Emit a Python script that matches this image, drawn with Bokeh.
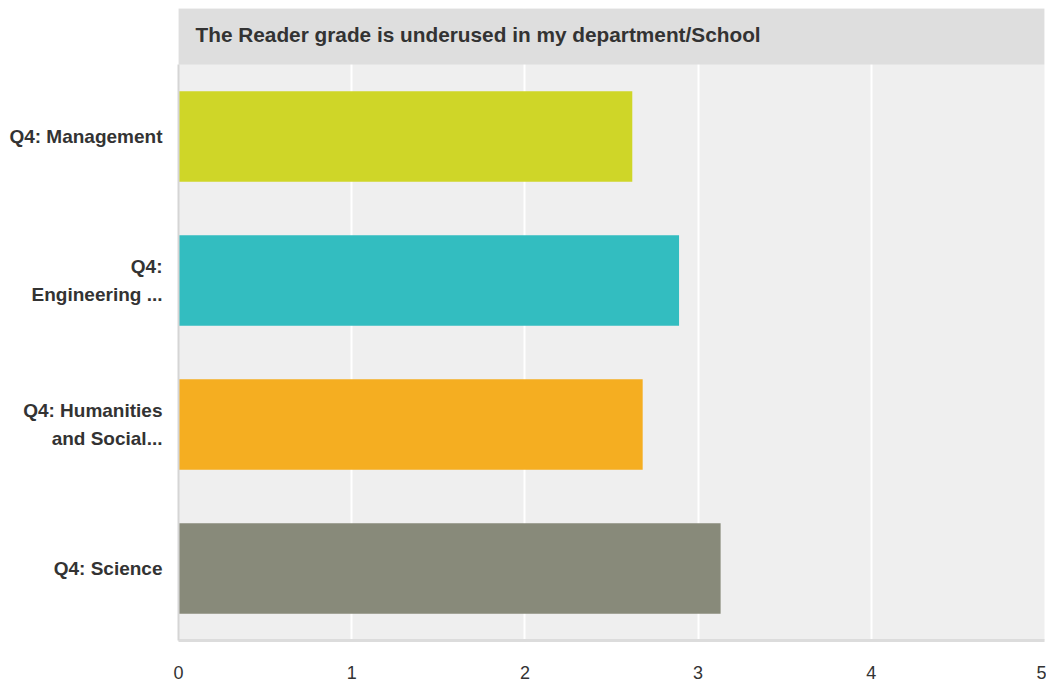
from bokeh.plotting import figure
from bokeh.models import ColumnDataSource, Range1d, FixedTicker
from bokeh.core.properties import value
from bokeh.embed import file_html
from bokeh.resources import INLINE

categories = ["Q4: Management", "Q4:\nEngineering ...", "Q4: Humanities\nand Social...", "Q4: Science"]
values = [2.62, 2.89, 2.68, 3.13]
colors = ["#cfd628", "#33bdc0", "#f5ae21", "#888a7a"]
title_text = "The Reader grade is underused in my department/School"
x_ticks = [0, 1, 2, 3, 4, 5]

n = len(categories)
positions = [n - 1 - i for i in range(n)]  # first category at top
source = ColumnDataSource(dict(y=positions, val=values, color=colors))

title_h = 56 / 144.0
top_plot = n - 0.5

p = figure(width=1046, height=688, output_backend="svg", toolbar_location=None,
           x_range=Range1d(0, 5), y_range=Range1d(-0.5, top_plot + title_h))

# title bar
p.quad(left=[0], right=[5], bottom=[top_plot], top=[top_plot + title_h],
       fill_color="#dedede", line_color=None)
p.text(x=[0], y=[top_plot + title_h / 2], text=[title_text], x_offset=17, y_offset=-2,
       text_font=value("Liberation Sans"), text_font_size="20.8px",
       text_font_style="bold", text_color="#333333", text_baseline="middle",
       text_align="left")

p.hbar(y="y", right="val", left=0, height=0.63, fill_color="color",
       line_color=None, source=source)

p.background_fill_color = "#efefef"
p.border_fill_color = "white"
p.outline_line_color = None
p.min_border_left = 178
p.min_border_right = 2
p.min_border_top = 8
p.min_border_bottom = 48

p.ygrid.grid_line_color = None
p.xgrid.grid_line_color = "white"
p.xgrid.grid_line_width = 2
p.xaxis.ticker = FixedTicker(ticks=x_ticks)

p.xaxis.axis_line_color = "#dcdcdc"
p.xaxis.axis_line_width = 3
p.xaxis.major_tick_line_color = None
p.xaxis.minor_tick_line_color = None
p.xaxis.major_label_text_font = "Liberation Sans"
p.xaxis.major_label_text_font_size = "18px"
p.xaxis.major_label_text_color = "#333333"
p.xaxis.major_label_standoff = 19

p.yaxis.ticker = FixedTicker(ticks=positions)
p.yaxis.major_label_overrides = {pos: cat for pos, cat in zip(positions, categories)}
p.yaxis.bounds = (-0.5, top_plot)
p.yaxis.axis_line_color = "#d5d5d5"
p.yaxis.axis_line_width = 2
p.yaxis.major_tick_line_color = None
p.yaxis.minor_tick_line_color = None
p.yaxis.major_label_text_font = "Liberation Sans"
p.yaxis.major_label_text_font_size = "19px"
p.yaxis.major_label_text_font_style = "bold"
p.yaxis.major_label_text_color = "#333333"
p.yaxis.major_label_text_line_height = 1.3
p.yaxis.major_label_standoff = 10

open("out.html", "w").write(file_html(p, INLINE))
